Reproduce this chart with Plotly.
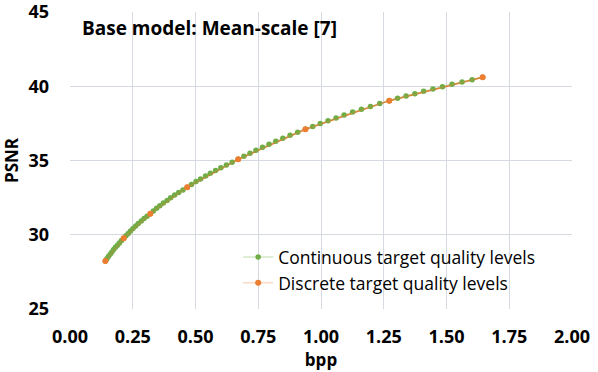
import plotly.graph_objects as go

# continuous target quality levels (bpp, PSNR)
cont_bpp = [
    0.141, 0.147, 0.153, 0.160, 0.167, 0.174, 0.181, 0.189, 0.197, 0.205,
    0.214, 0.223, 0.232, 0.241, 0.251, 0.262, 0.272, 0.284, 0.295, 0.307,
    0.320, 0.332, 0.345, 0.358, 0.372, 0.387, 0.401, 0.417, 0.433, 0.450,
    0.467, 0.484, 0.502, 0.520, 0.540, 0.559, 0.580, 0.601, 0.623, 0.646,
    0.670, 0.693, 0.717, 0.741, 0.767, 0.793, 0.820, 0.848, 0.877, 0.907,
    0.938, 0.967, 0.997, 1.028, 1.060, 1.092, 1.126, 1.161, 1.197, 1.234,
    1.272, 1.305, 1.339, 1.374, 1.409, 1.446, 1.484, 1.522, 1.562, 1.602,
    1.644,
]
cont_psnr = [
    28.23, 28.38, 28.54, 28.69, 28.84, 29.00, 29.15, 29.30, 29.45, 29.61,
    29.76, 29.93, 30.09, 30.26, 30.42, 30.59, 30.76, 30.92, 31.09, 31.25,
    31.42, 31.60, 31.78, 31.95, 32.13, 32.31, 32.49, 32.67, 32.84, 33.02,
    33.20, 33.39, 33.58, 33.76, 33.95, 34.14, 34.33, 34.52, 34.70, 34.89,
    35.08, 35.28, 35.48, 35.69, 35.89, 36.09, 36.29, 36.49, 36.70, 36.90,
    37.10, 37.29, 37.49, 37.68, 37.87, 38.07, 38.26, 38.45, 38.64, 38.84,
    39.03, 39.19, 39.34, 39.50, 39.66, 39.82, 39.97, 40.13, 40.29, 40.44,
    40.60,
]

# discrete target quality levels
disc_bpp = [0.141, 0.214, 0.320, 0.467, 0.670, 0.938, 1.272, 1.644]
disc_psnr = [28.23, 29.76, 31.42, 33.20, 35.08, 37.10, 39.03, 40.60]

green = '#70AD47'
orange = '#ED7D31'
grid = '#D5DAE2'
font = 'Open Sans, sans-serif'

fig = go.Figure()

# orange connecting line sits underneath the green dots
fig.add_trace(go.Scatter(
    x=disc_bpp, y=disc_psnr, mode='lines',
    line=dict(color=orange, width=1.5),
    showlegend=False, hoverinfo='skip',
))
fig.add_trace(go.Scatter(
    x=cont_bpp, y=cont_psnr, mode='lines+markers',
    name='Continuous target quality levels',
    line=dict(color='rgba(112,173,71,0.3)', width=1.5),
    marker=dict(color=green, size=5.5),
))
fig.add_trace(go.Scatter(
    x=disc_bpp, y=disc_psnr, mode='markers+lines',
    name='Discrete target quality levels',
    line=dict(color='rgba(237,125,49,0.3)', width=1.5),
    marker=dict(color=orange, size=6),
))

fig.update_layout(
    width=598, height=372,
    margin=dict(l=70, r=26, t=12, b=63),
    paper_bgcolor='white', plot_bgcolor='white',
    font=dict(family=font, size=17, color='black'),
    xaxis=dict(
        range=[0, 2], dtick=0.25, tick0=0, tickformat='.2f',
        showgrid=True, gridcolor=grid, gridwidth=1,
        zeroline=False, showline=False, ticks='',
        automargin=False, ticklabelstandoff=15, ticklabeloverflow='allow',
        tickfont=dict(family=font, size=18, color='black', weight='bold'),
        title=dict(text='<b>bpp</b>', font=dict(size=17), standoff=2),
    ),
    yaxis=dict(
        range=[25, 45], dtick=5,
        showgrid=True, gridcolor=grid, gridwidth=1,
        zeroline=False, showline=False, ticks='',
        automargin=False, ticklabelstandoff=20, ticklabeloverflow='allow',
        tickfont=dict(family=font, size=18, color='black', weight='bold'),
        title=dict(text='<b>PSNR</b>', font=dict(size=17), standoff=8),
    ),
    legend=dict(
        x=0.335, y=0.235, xanchor='left', yanchor='top',
        bgcolor='rgba(0,0,0,0)', font=dict(size=17.5),
        tracegroupgap=0, itemwidth=30,
    ),
    annotations=[dict(
        text='<b>Base model: Mean-scale [7]</b>',
        xref='paper', yref='paper', x=0.02, y=0.946,
        xanchor='left', yanchor='middle', showarrow=False,
        font=dict(size=19),
    )],
    showlegend=True,
)

# the page body has a default 8px margin, drop it so the figure sits at 0,0
fig.write_html('out.html', config={'displayModeBar': False},
               post_script="document.body.style.margin='0';")
